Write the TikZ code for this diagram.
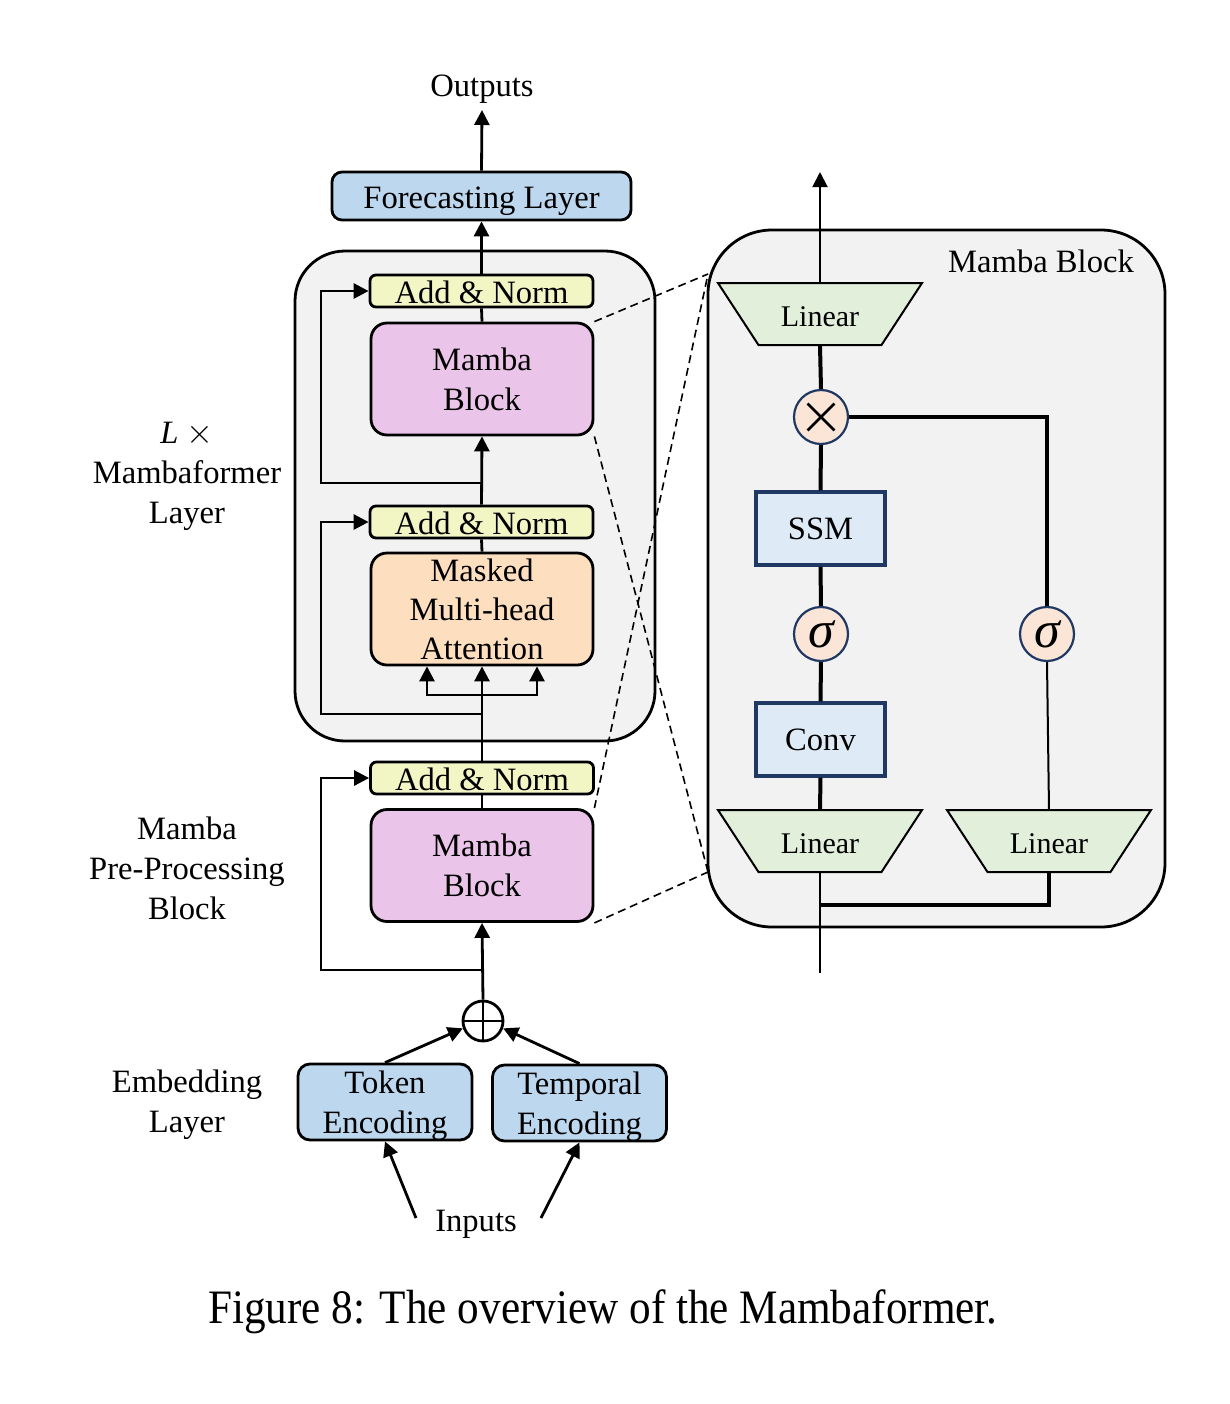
\documentclass[tikz,border=0pt]{standalone}
\usepackage{fontspec}
\setmainfont{Liberation Serif}
\newfontfamily\capfont[FakeStretch=0.9]{Liberation Serif}
\usetikzlibrary{calc,arrows.meta}

\definecolor{encblue}{HTML}{BDD7EE}
\definecolor{normyellow}{HTML}{F2F5C4}
\definecolor{mambapink}{HTML}{EBC4EA}
\definecolor{attnpeach}{HTML}{FDDFC0}
\definecolor{panelgray}{HTML}{F2F2F2}
\definecolor{lingreen}{HTML}{E2EFDA}
\definecolor{ssmblue}{HTML}{DEEBF7}
\definecolor{opfill}{HTML}{FBE5D6}
\definecolor{navy}{HTML}{203864}

\begin{document}
\begin{tikzpicture}[x=0.5pt,y=-0.5pt,font=\fontsize{16.3}{20}\selectfont]
\tikzset{
% boxes of the Mambaformer stack
box/.style={draw,line width=1.4pt,inner sep=0pt,align=center},
add norm/.style={box,fill=normyellow,rounded corners=3pt,minimum width=111.5pt,minimum height=16pt,text height=12.2pt,text depth=0pt},
mamba/.style={box,fill=mambapink,rounded corners=8pt,minimum width=111pt,minimum height=56pt},
attn/.style={box,fill=attnpeach,rounded corners=8pt,minimum width=111pt,minimum height=56pt},
enc/.style={box,fill=encblue,rounded corners=6pt,minimum width=87pt,minimum height=38pt,text height=34.5pt,text depth=3pt},
% parts of the Mamba block
lin/.style={inner sep=0pt,minimum width=102pt,minimum height=31pt,text height=12.3pt,text depth=0pt,font=\fontsize{15}{18}\selectfont},
op/.style={circle,draw=navy,line width=1.1pt,fill=opfill,minimum size=27pt,inner sep=0pt},
sq/.style={draw=navy,line width=1.6pt,fill=ssmblue,minimum width=64.5pt,minimum height=36.5pt},
arr/.style={-{Triangle[length=7.5pt,width=7.5pt]},line width=1.4pt},
thick line/.style={line width=2pt},
thin line/.style={line width=1pt},
zoom line/.style={dashed,dash pattern=on 4pt off 2.5pt,line width=0.8pt}
}
\useasboundingbox (0,0) rectangle (1230,1404);

% backgrounds
\node (lbox) [draw,line width=1.4pt,fill=panelgray,rounded corners=25pt,minimum width=180pt,minimum height=245pt] at (475,496) {};
\node (panel) [draw,line width=1.4pt,fill=panelgray,rounded corners=32pt,minimum width=228.5pt,minimum height=348.5pt] at (936.5,578.5) {};

% left stack
\node (out) [anchor=south] at (482,110) {Outputs};
\node (fcast) [box,fill=encblue,rounded corners=5pt,minimum width=149.5pt,minimum height=24pt,text height=15.8pt,text depth=3.5pt] at (481.5,196) {Forecasting Layer};
\node (an1) [add norm] at (481.5,291) {Add \& Norm};
\node (mb1) [mamba] at (482,379) {Mamba\\Block};
\node (an2) [add norm] at (481.5,522) {Add \& Norm};
\node (mha) [attn] at (482,609) {Masked\\[-0.5pt]Multi-head\\[-0.5pt]Attention};
\node (an3) [add norm] at (482,778) {Add \& Norm};
\node (mb2) [mamba] at (482,865.5) {Mamba\\Block};
\node (plus) [circle,draw,line width=1.4pt,minimum size=20pt,inner sep=0pt,
  path picture={\draw[line width=1.4pt] (path picture bounding box.north) -- (path picture bounding box.south)
    (path picture bounding box.west) -- (path picture bounding box.east);}] at (483,1021) {};
\node (tok) [enc] at (385,1102) {Token\\Encoding};
\node (tmp) [enc] at (579.5,1103) {Temporal\\Encoding};
\node (inp) at (476,1224) {Inputs};
\coordinate (inl) at (416,1218);
\coordinate (inr) at (541,1218);

% side labels
\node (lbl1) [align=center] at (187,476) {\textit{L} $\times$\\Mambaformer\\Layer};
\node (lbl2) [align=center] at (187,868) {Mamba\\Pre-Processing\\Block};
\node (lbl3) [align=center] at (187,1104.5) {Embedding\\Layer};

% connections of the stack
\draw[arr] (fcast.north) -- (out.south);
\draw[arr] (an1.north) -- (fcast.south);
\draw[line width=1.4pt] (mb1.north) -- (an1.south);
\draw[arr] (an2.north) -- (mb1.south);
\draw[line width=1.4pt] (mha.north) -- (an2.south);
\draw[arr] (an3.north) -- (mha.south);
\coordinate (split) at (482,695);
\draw[arr] (split) -| ([xshift=-27.5pt]mha.south);
\draw[arr] (split) -| ([xshift=27.5pt]mha.south);
\draw[line width=1.4pt] (mb2.north) -- (an3.south);
\draw[arr] (plus.north) -- (mb2.south);
\draw[arr] (tok.north) -- (plus.200);
\draw[arr] (tmp.north) -- (plus.340);
\draw[arr] (inl) -- (tok.south);
\draw[arr] (inr) -- (tmp.south);

% residual paths
\coordinate (r1) at (482,483);
\coordinate (r2) at (482,714);
\coordinate (r3) at (482,970);
\draw[arr] (r1) -- ++(-161,0) |- (an1.west);
\draw[arr] (r2) -- ++(-161,0) |- (an2.west);
\draw[arr] (r3) -- ++(-161,0) |- (an3.west);

% Mamba block in detail
\node (title) at (1041,261) {Mamba Block};
\foreach \n/\x/\y in {lin1/820/314,lin2/820/841,lin3/1049/841}{
  \draw[line width=1pt,fill=lingreen] (\x-102,\y-31) -- (\x+102,\y-31) -- (\x+61.5,\y+31) -- (\x-61.5,\y+31) -- cycle;
  \node (\n) [lin] at (\x,\y) {Linear};
}
\node (mul) [op,path picture={\draw[black,line width=1.3pt]
    ([shift={(-6.7pt,-6.7pt)}]path picture bounding box.center) -- ([shift={(6.7pt,6.7pt)}]path picture bounding box.center)
    ([shift={(-6.7pt,6.7pt)}]path picture bounding box.center) -- ([shift={(6.7pt,-6.7pt)}]path picture bounding box.center);}] at (821,417) {};
\node (ssm) [sq] at (820.5,528.5) {SSM};
\node (sg1) [op,font=\fontsize{26}{26}\selectfont\itshape] at (821,634) {σ};
\node (sg2) [op,font=\fontsize{26}{26}\selectfont\itshape] at (1047,634) {σ};
\node (conv) [sq] at (820.5,739.5) {Conv};
\coordinate (mtop) at (820,172);
\coordinate (mbot) at (820,973);
\coordinate (mjoin) at (820,905);

\draw[arr,line width=1pt] (lin1.north) -- (mtop);
\draw[thick line] (lin1.south) -- (mul.north);
\draw[thick line] (mul.south) -- (ssm.north);
\draw[thick line] (ssm.south) -- (sg1.north);
\draw[thick line] (sg1.south) -- (conv.north);
\draw[thick line] (conv.south) -- (lin2.north);
\draw[thick line] (mul.east) -| (sg2.north);
\draw[thin line] (sg2.south) -- (lin3.north);
\draw[thin line] (mbot) -- (lin2.south);
\draw[thick line] (mjoin) -| (lin3.south);

% zoom lines
\coordinate (zt) at (708,274);
\coordinate (zb) at (708,872);
\draw[zoom line] (mb1.north east) -- (zt);
\draw[zoom line] (mb1.south east) -- (zb);
\draw[zoom line] (mb2.north east) -- (zt);
\draw[zoom line] (mb2.south east) -- (zb);

% caption
\node (cap) at (603,1312) {\capfont\fontsize{24}{28}\selectfont Figure 8: The overview of the Mambaformer.};
\end{tikzpicture}
\end{document}
